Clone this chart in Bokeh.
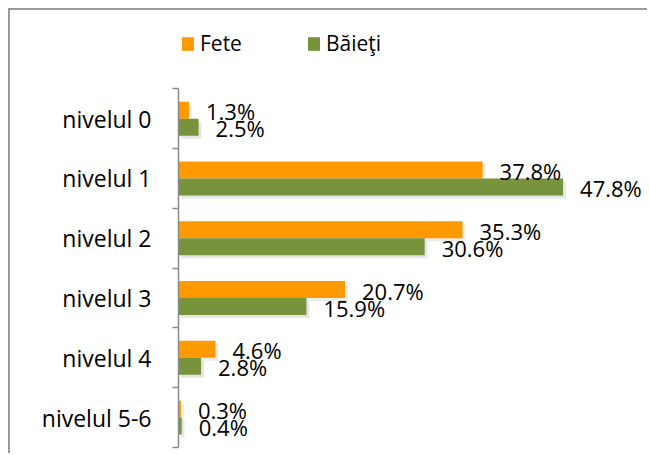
from bokeh.plotting import figure
from bokeh.models import Range1d, FixedTicker, ColumnDataSource, Legend, LegendItem
from bokeh.core.properties import value
from bokeh.embed import file_html
from bokeh.resources import INLINE

categories = ["nivelul 0", "nivelul 1", "nivelul 2", "nivelul 3", "nivelul 4", "nivelul 5-6"]
fete = [1.3, 37.8, 35.3, 20.7, 4.6, 0.3]
baieti = [2.5, 47.8, 30.6, 15.9, 2.8, 0.4]
series_names = ["Fete", "Băieţi"]

ORANGE = "#FF9900"
GREEN = "#77933C"
FONT = "Open Sans"

bar_h = 0.284
n = len(categories)
centers = [i + 0.5 for i in range(n)]
y_f = [c - bar_h / 2 for c in centers]
y_b = [c + bar_h / 2 for c in centers]

src = ColumnDataSource(dict(
    y_f=y_f, y_b=y_b, fete=fete, baieti=baieti,
    lab_f=[f"{v:.1f}%" for v in fete],
    lab_b=[f"{v:.1f}%" for v in baieti],
    sh_y=[c + bar_h / 2 + 0.05 for c in centers],
    sh_yf=[c - bar_h / 2 + 0.05 for c in centers],
    sh_l=[0.3] * n,
    sh_rb=[v + 0.35 for v in baieti],
    sh_rf=[v + 0.35 for v in fete],
))

p = figure(width=639, height=445, output_backend="svg", toolbar_location=None,
           x_range=Range1d(0, 57.8), y_range=Range1d(6, -1.31),
           min_border_left=168, min_border_top=0, min_border_bottom=8, min_border_right=6)
p.styles = {"margin-left": "8px", "margin-top": "8px",
            "border-left": "2px solid #9a9a9a", "border-top": "2px solid #9a9a9a"}
p.outline_line_color = None
p.border_fill_color = "white"
p.xgrid.visible = False
p.ygrid.visible = False
p.xaxis.visible = False

# soft shadows
p.hbar(y="sh_yf", left="sh_l", right="sh_rf", height=bar_h, source=src,
       fill_color="#000000", fill_alpha=0.08, line_color=None)
p.hbar(y="sh_y", left="sh_l", right="sh_rb", height=bar_h, source=src,
       fill_color="#000000", fill_alpha=0.10, line_color=None)

rf = p.hbar(y="y_f", left=0, right="fete", height=bar_h, source=src,
            fill_color=ORANGE, line_color=None)
rb = p.hbar(y="y_b", left=0, right="baieti", height=bar_h, source=src,
            fill_color=GREEN, line_color=None)

p.text(x="fete", y="y_f", text="lab_f", source=src, x_offset=17, y_offset=1,
       text_font=value(FONT), text_font_size="22px", text_color="#000000",
       text_align="left", text_baseline="middle")
p.text(x="baieti", y="y_b", text="lab_b", source=src, x_offset=17, y_offset=1,
       text_font=value(FONT), text_font_size="22px", text_color="#000000",
       text_align="left", text_baseline="middle")

ax = p.yaxis[0]
ax.bounds = (0, n)
ax.ticker = FixedTicker(ticks=centers, minor_ticks=[float(i) for i in range(n + 1)])
ax.major_label_overrides = {c: name for c, name in zip(centers, categories)}
ax.major_tick_out = 0
ax.major_tick_in = 0
ax.minor_tick_out = 6
ax.minor_tick_in = 0
ax.minor_tick_line_color = "#8a8a8a"
ax.minor_tick_line_width = 1.5
ax.axis_line_color = "#8a8a8a"
ax.axis_line_width = 1.5
ax.major_label_standoff = 21
ax.major_label_text_font = FONT
ax.major_label_text_font_size = "23px"
ax.major_label_text_color = "#000000"

legend = Legend(items=[LegendItem(label=series_names[0], renderers=[rf]),
                       LegendItem(label=series_names[1], renderers=[rb])],
                orientation="horizontal", location=(2, 390))
legend.label_text_font = FONT
legend.label_text_font_size = "21px"
legend.label_text_color = "#000000"
legend.glyph_width = 15
legend.glyph_height = 17
legend.label_height = 20
legend.label_standoff = 5
legend.spacing = 64
legend.padding = 0
legend.margin = 0
legend.border_line_alpha = 0
legend.background_fill_alpha = 0
p.add_layout(legend, "center")

open("out.html", "w").write(file_html(p, INLINE))
